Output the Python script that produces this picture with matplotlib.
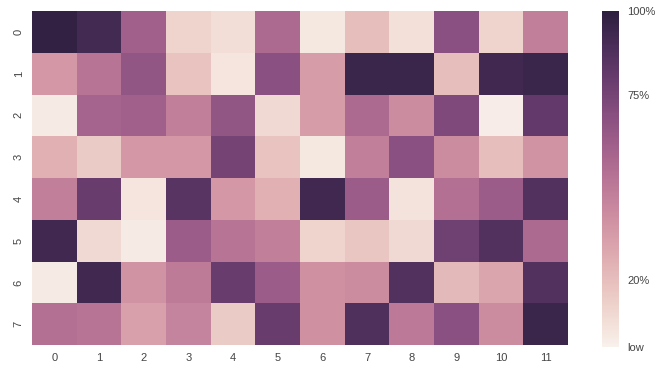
import matplotlib.pyplot as plt
import numpy as np
import seaborn as sns

# values (0..1 scale)
row0 = [0.98, 0.92, 0.60, 0.12, 0.08, 0.55, 0.04, 0.20, 0.07, 0.68, 0.12, 0.45]
row1 = [0.35, 0.50, 0.65, 0.18, 0.05, 0.68, 0.33, 0.95, 0.95, 0.20, 0.93, 0.95]
row2 = [0.03, 0.58, 0.60, 0.45, 0.65, 0.10, 0.33, 0.55, 0.40, 0.72, 0.02, 0.82]
row3 = [0.25, 0.15, 0.35, 0.35, 0.75, 0.18, 0.04, 0.45, 0.68, 0.40, 0.20, 0.37]
row4 = [0.45, 0.80, 0.05, 0.85, 0.35, 0.25, 0.93, 0.62, 0.06, 0.52, 0.62, 0.87]
row5 = [0.93, 0.10, 0.03, 0.62, 0.50, 0.45, 0.12, 0.17, 0.10, 0.77, 0.87, 0.55]
row6 = [0.03, 0.93, 0.37, 0.47, 0.80, 0.62, 0.38, 0.40, 0.87, 0.22, 0.30, 0.87]
row7 = [0.52, 0.50, 0.32, 0.43, 0.15, 0.80, 0.38, 0.88, 0.48, 0.68, 0.40, 0.95]
data = np.array([row0, row1, row2, row3, row4, row5, row6, row7])

cbar_ticks = [0.0, 0.2, 0.75, 1.0]
cbar_labels = ['low', '20%', '75%', '100%']

sns.set_style('white')
plt.rcParams['font.family'] = ['Liberation Sans', 'DejaVu Sans']

fig = plt.figure(figsize=(6.58, 3.72), dpi=100)
ax = fig.add_axes([32/658, 27/372, 536/658, 334/372])
cax = fig.add_axes([602/658, 25/372, 17/658, 336/372])

cmap = sns.cubehelix_palette(light=.95, as_cmap=True)
sns.heatmap(data, ax=ax, cbar_ax=cax, cmap=cmap, vmin=0, vmax=1,
            cbar_kws={'ticks': cbar_ticks})

cax.set_yticklabels(cbar_labels)
cax.tick_params(length=0, labelsize=8, labelcolor='#444444', pad=6)
for s in cax.spines.values():
    s.set_visible(False)

ax.tick_params(length=0, labelsize=8, labelcolor='#444444', pad=6)
ax.set_xticklabels([str(i) for i in range(12)], rotation=0)
ax.set_yticklabels([str(i) for i in range(8)], rotation=90, va='center')

fig.savefig('out.png', dpi=100)
